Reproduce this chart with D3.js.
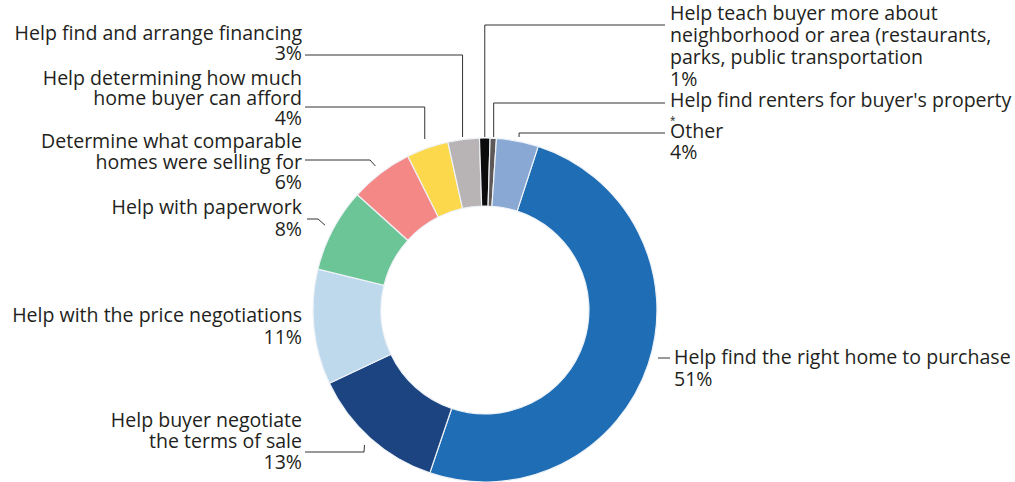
<!DOCTYPE html>
<html>
<head>
<meta charset="utf-8">
<script src="https://cdn.jsdelivr.net/npm/d3@7"></script>
<style>
  body { margin: 0; background: #fff; }
  svg { display: block; }
  text { font-family: "Open Sans", "DejaVu Sans", sans-serif; fill: #231f20; }
</style>
</head>
<body>
<div id="chart"></div>
<script>
// slices, clockwise from the big one
let categories = [
  "Help find the right home to purchase",
  "Help buyer negotiate the terms of sale",
  "Help with the price negotiations",
  "Help with paperwork",
  "Determine what comparable homes were selling for",
  "Help determining how much home buyer can afford",
  "Help find and arrange financing",
  "Help teach buyer more about neighborhood or area (restaurants, parks, public transportation",
  "Help find renters for buyer's property",
  "Other"
];
let values = [51, 13, 11, 8, 6, 4, 3, 1, 0.6, 4];
let pctLabels = ["51%", "13%", "11%", "8%", "6%", "4%", "3%", "1%", "*", "4%"];
let colors = ["#1f6eb5", "#1b4481", "#bfd9ec", "#6cc597", "#f48886",
              "#fcd94c", "#b8b3b4", "#0b0b0b", "#5e5859", "#8aa8d4"];

// how each label is broken into lines
let labelLines = [
  ["Help find the right home to purchase"],
  ["Help buyer negotiate", "the terms of sale"],
  ["Help with the price negotiations"],
  ["Help with paperwork"],
  ["Determine what comparable", "homes were selling for"],
  ["Help determining how much", "home buyer can afford"],
  ["Help find and arrange financing"],
  ["Help teach buyer more about", "neighborhood or area (restaurants,", "parks, public transportation"],
  ["Help find renters for buyer's property"],
  ["Other"]
];

let width = 1015, height = 482;
let cx = 485, cy = 310, outerR = 172, innerR = 104;

let svg = d3.select("#chart")
  .append("svg")
  .attr("width", width)
  .attr("height", height);

let pie = d3.pie()
  .sort(null)
  .value(d => d)
  .startAngle(18 * Math.PI / 180)
  .endAngle(378 * Math.PI / 180);

let arcs = pie(values);

let arc = d3.arc()
  .innerRadius(innerR)
  .outerRadius(outerR);

let g = svg.append("g")
  .attr("transform", `translate(${cx},${cy})`);

g.selectAll("path")
  .data(arcs)
  .enter()
    .append("path")
      .attr("d", arc)
      .attr("fill", (d, i) => colors[i])
      .attr("stroke", "#eef2f7")
      .attr("stroke-width", 1.2);

// point on the ring at the middle of slice i
function midPoint(i, r) {
  let a = (arcs[i].startAngle + arcs[i].endAngle) / 2;
  return [cx + r * Math.sin(a), cy - r * Math.cos(a)];
}

// label placement: anchor side, x, first baseline, line gap
let layout = [
  { side: "start", x: 674, y: 364, gap: 22 },
  { side: "end", x: 302, y: 427, gap: 21 },
  { side: "end", x: 302, y: 322, gap: 22 },
  { side: "end", x: 302, y: 214, gap: 22 },
  { side: "end", x: 302, y: 148, gap: 20.5 },
  { side: "end", x: 302, y: 85, gap: 20 },
  { side: "end", x: 302, y: 40, gap: 20 },
  { side: "start", x: 670, y: 20, gap: 22 },
  { side: "start", x: 670, y: 107, gap: 17 },
  { side: "start", x: 670, y: 138, gap: 21 }
];

// leader lines, drawn from the label toward the slice
let leaders = [
  i => [[658, 358], [670, 358]],
  i => [[305, 452], [364, 452], midPoint(i, 181)],
  null,
  i => [[307, 219], [318, 219], midPoint(i, 181)],
  i => [[305, 160], [370, 160], midPoint(i, 181)],
  i => [[305, 107], [midPoint(i, 180)[0], 107], [midPoint(i, 180)[0], 139]],
  i => [[305, 55], [midPoint(i, 180)[0], 55], [midPoint(i, 180)[0], 137]],
  i => [[665, 25], [midPoint(i, 180)[0], 25], [midPoint(i, 180)[0], 137]],
  i => [[665, 103], [midPoint(i, 180)[0], 103], [midPoint(i, 180)[0], 137]],
  i => [[665, 133], [midPoint(i, 180)[0], 133], [midPoint(i, 180)[0], 137]]
];

let line = d3.line();

svg.append("g")
  .selectAll("path")
  .data(leaders.map((f, i) => f ? f(i) : null).filter(d => d))
  .enter()
    .append("path")
      .attr("d", line)
      .attr("fill", "none")
      .attr("stroke", "#333")
      .attr("stroke-width", 1);

let fontSize = 16;

let labels = svg.append("g")
  .attr("font-size", fontSize)
  .selectAll("text")
  .data(categories)
  .enter()
    .append("text")
      .attr("text-anchor", (d, i) => layout[i].side)
      .attr("x", (d, i) => layout[i].x)
      .attr("y", (d, i) => layout[i].y);

labels.each(function (d, i) {
  let t = d3.select(this);
  let lines = labelLines[i].concat([pctLabels[i]]);
  lines.forEach((s, k) => {
    t.append("tspan")
      .attr("x", layout[i].x)
      .attr("y", layout[i].y + k * layout[i].gap)
      .attr("class", s === "*" ? "star" : null)
      .text(s);
  });
});

// scale the type so the longest right-hand label spans like the original
let probe = labels.filter((d, i) => i === 0).select("tspan").node();
let len = probe.getComputedTextLength();
fontSize = fontSize * 337 / len;
svg.selectAll("text").attr("font-size", fontSize);
// the "no data" mark is a tiny asterisk in the original
svg.selectAll("tspan.star").attr("font-size", 10);
</script>
</body>
</html>
